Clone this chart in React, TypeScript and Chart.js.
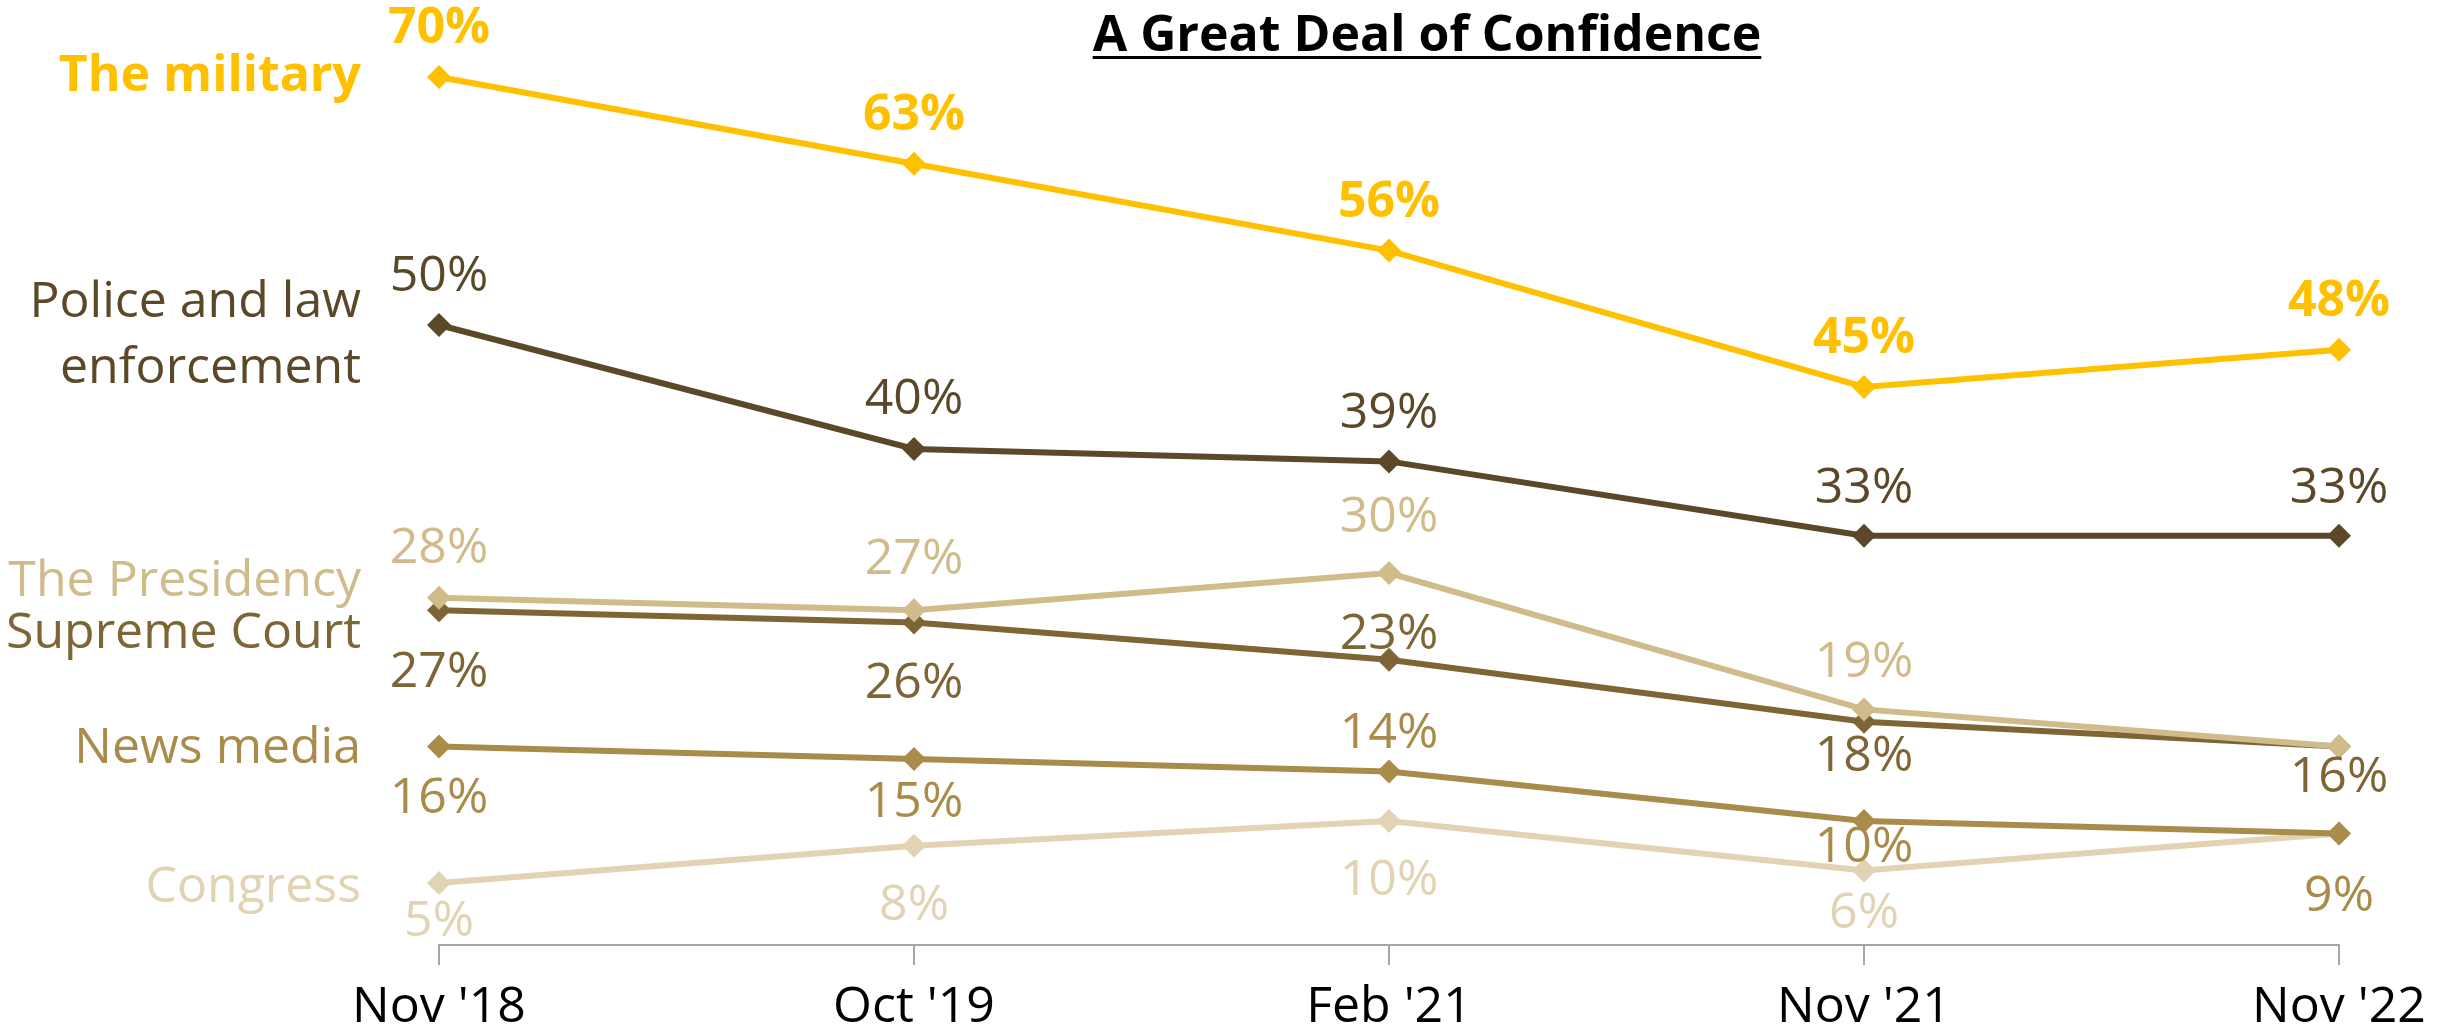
import React, { useEffect, useRef } from "react";
import { Chart, registerables } from "chart.js";

Chart.register(...registerables);

const categories = ["Nov '18", "Oct '19", "Feb '21", "Nov '21", "Nov '22"];
const seriesNames = ["The military", "Police and law\nenforcement", "The Presidency", "Supreme Court", "News media", "Congress"];
const military = [70, 63, 56, 45, 48];
const police = [50, 40, 39, 33, 33];
const presidency = [28, 27, 30, 19, 16];
const supremeCourt = [27, 26, 23, 18, 16];
const newsMedia = [16, 15, 14, 10, 9];
const congress = [5, 8, 10, 6, 9];
const titleText = "A Great Deal of Confidence";

// styles
const colors = ["#FFC000", "#5B4828", "#D0BB8B", "#7E6536", "#A98B4A", "#E1D3B3"];
const bold = [true, false, false, false, false, false];
// pixel offsets of value labels from their point (null = hidden)
const valueLabelOffsets: (number | null)[][] = [
  [-48, -48, -48, -48, -48],
  [-48, -49, -48, -47, -47],
  [-49, -50, -55, -47, null],
  [63, 61, -25, 35, 31],
  [52, 44, -38, 27, 63],
  [39, 60, 60, 43, null],
];
// pixel offsets of series-name labels from the first point
const nameLabelOffsets = [0, 11, -16, 24, 2, 5];

const FONT = "'Open Sans', 'Noto Sans', sans-serif";
const FS = 50;

export default function App() {
  const ref = useRef<HTMLCanvasElement | null>(null);

  useEffect(() => {
    if (!ref.current) return;
    const values = [military, police, presidency, supremeCourt, newsMedia, congress];

    const labelPlugin = {
      id: "customLabels",
      afterDatasetsDraw(chart: any) {
        const ctx = chart.ctx;
        ctx.save();
        chart.data.datasets.forEach((ds: any, di: number) => {
          const meta = chart.getDatasetMeta(di);
          ctx.fillStyle = colors[di];
          ctx.font = `${bold[di] ? "bold " : ""}${FS}px ${FONT}`;
          ctx.textAlign = "center";
          ctx.textBaseline = "middle";
          meta.data.forEach((pt: any, i: number) => {
            const off = valueLabelOffsets[di][i];
            if (off === null) return;
            ctx.fillText(`${ds.data[i]}%`, pt.x, pt.y + off);
          });
          // series name label on the left
          const first = meta.data[0];
          const lines = seriesNames[di].split("\n");
          const lh = 66;
          ctx.textAlign = "right";
          const cy = first.y + nameLabelOffsets[di];
          lines.forEach((ln, li) => {
            const y = cy + (li - (lines.length - 1) / 2) * lh;
            ctx.fillText(ln, chart.chartArea.left - 78, y);
          });
        });
        // title
        ctx.fillStyle = "#000";
        ctx.font = `bold ${FS}px ${FONT}`;
        ctx.textAlign = "center";
        ctx.textBaseline = "alphabetic";
        const cx = 1427;
        ctx.fillText(titleText, cx, 51);
        const w = ctx.measureText(titleText).width;
        ctx.fillRect(cx - w / 2, 56, w, 3);
        ctx.restore();
      },
    };

    const chart = new Chart(ref.current, {
      type: "line",
      data: {
        labels: categories,
        datasets: values.map((v, i) => ({
          label: seriesNames[i],
          data: v,
          borderColor: colors[i],
          backgroundColor: colors[i],
          borderWidth: 6,
          pointStyle: "rectRot",
          pointRadius: 12,
          pointHoverRadius: 12,
          pointBorderWidth: 0,
          tension: 0,
        })),
      },
      options: {
        animation: false,
        responsive: true,
        maintainAspectRatio: false,
        layout: { padding: { left: 439, right: 120, top: 15, bottom: 0 } },
        plugins: { legend: { display: false }, tooltip: { enabled: false }, title: { display: false } },
        scales: {
          x: {
            offset: false,
            grid: { drawOnChartArea: false, drawTicks: true, tickLength: 20, color: "#A6A6A6", lineWidth: 2 },
            border: { display: true, color: "#A6A6A6", width: 2 },
            ticks: { color: "#000", font: { family: FONT, size: FS }, padding: 13, maxRotation: 0, autoSkip: false },
            afterFit: (scale: any) => {
              scale.height = 87;
            },
          },
          y: { display: false, min: 0, max: 75 },
        },
      },
      plugins: [labelPlugin],
    });
    return () => chart.destroy();
  }, []);

  return (
    <div style={{ position: "fixed", left: 0, top: 0, width: 2459, height: 1032, background: "#fff" }}>
      <canvas ref={ref} />
    </div>
  );
}
